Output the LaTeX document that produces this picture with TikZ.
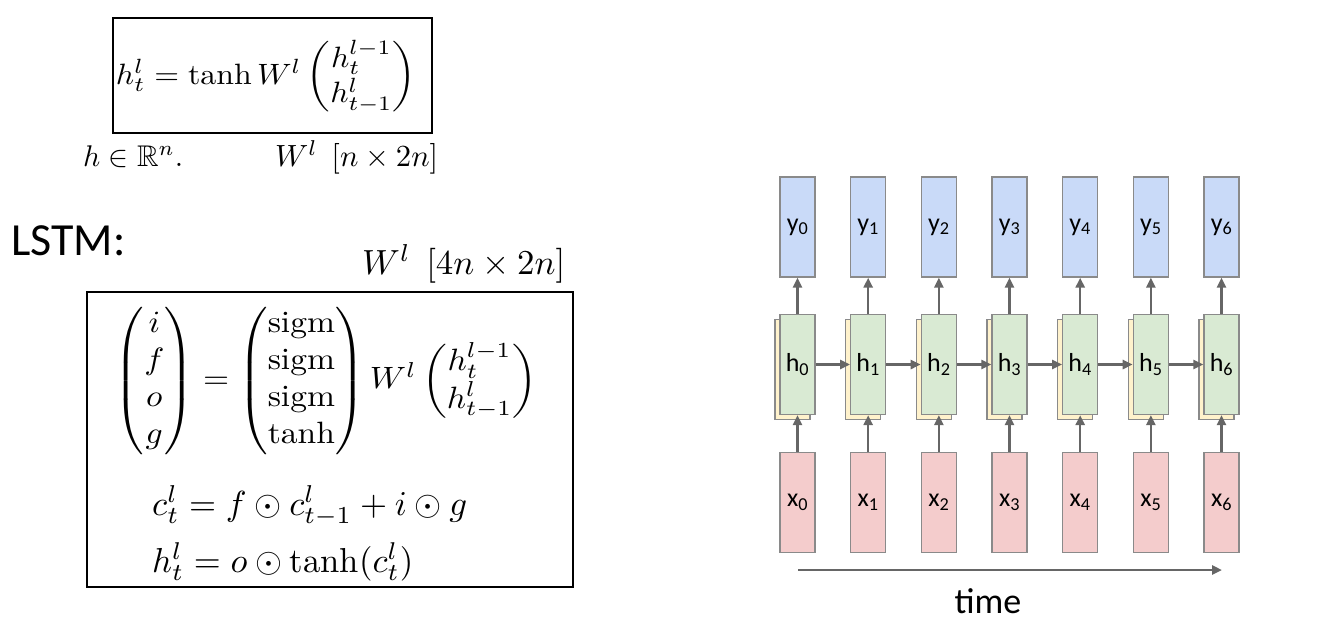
\documentclass[tikz,border=0pt]{standalone}
\usepackage{amsmath,amssymb}
\usepackage{graphicx}
\usepackage{fontspec}
\newfontfamily\calib{Carlito}
\usetikzlibrary{arrows.meta}
\definecolor{yblue}{HTML}{C9DAF8}
\definecolor{hgreen}{HTML}{D9EAD3}
\definecolor{xpink}{HTML}{F4CCCC}
\definecolor{hyellow}{HTML}{FFF2CC}
\definecolor{boxgray}{HTML}{8A8A8A}
\definecolor{arrgray}{HTML}{666666}
\begin{document}
\begin{tikzpicture}[x=1pt,y=-1pt,
  cell/.style={draw=boxgray, line width=1.3pt, minimum width=35pt, minimum height=100pt, inner sep=0pt, font=\calib\fontsize{26}{28}\selectfont},
  ycell/.style={cell, fill=yblue},
  hcell/.style={cell, fill=hgreen},
  hback/.style={cell, fill=hyellow},
  xcell/.style={cell, fill=xpink},
  arr/.style={-{Triangle[length=10pt,width=9pt]}, draw=arrgray, line width=2.6pt},
  framebox/.style={draw=black, line width=2pt, inner sep=0pt},
  eq/.style={inner sep=0pt}
]
\useasboundingbox (0,0) rectangle (1318,622);
% left side frames
\node[framebox, minimum width=319pt, minimum height=115pt] (topframe) at (272.5,75.5) {};
\node[framebox, minimum width=486pt, minimum height=295pt] (lstmframe) at (330,439.5) {};
% equations
\node[eq] (eqrnn) at (266,77) {\resizebox*{300pt}{73pt}{$h^l_t = \tanh W^l \begin{pmatrix} h^{l-1}_t\\ h^l_{t-1}\end{pmatrix}$}};
\node[eq, anchor=west] (hdim) at (83,157) {\resizebox{100pt}{!}{$h \in \mathbb{R}^n.$}};
\node[eq, anchor=west] (wdim) at (275,157) {\resizebox{163pt}{!}{$W^l\;\, [n \times 2n]$}};
\node[anchor=west, inner sep=0pt, font=\calib\fontsize{46}{50}\selectfont] (lstmlabel) at (11,241) {LSTM:};
\node[eq, anchor=west] (wlstm) at (362,264) {\resizebox{203pt}{!}{$W^l\;\, [4n \times 2n]$}};
\node[eq] (eqgates) at (326,381) {\resizebox*{422pt}{148pt}{$\begin{pmatrix} i\\ f\\ o\\ g\end{pmatrix} = \begin{pmatrix}\mathrm{sigm}\\ \mathrm{sigm}\\ \mathrm{sigm}\\ \tanh\end{pmatrix} W^l \begin{pmatrix} h^{l-1}_t\\ h^l_{t-1}\end{pmatrix}$}};
\node[eq, anchor=west] (eqc) at (152,506) {\resizebox{315pt}{!}{$c^l_t = f \odot c^l_{t-1} + i \odot g$}};
\node[eq, anchor=west] (eqh) at (152,562) {\resizebox{261pt}{!}{$h^l_t = o \odot \tanh(c^l_t)$}};
% RNN chain
\foreach \i in {0,...,6}{
  \pgfmathsetmacro{\cx}{797.5+70.67*\i}
  \node[ycell] (y\i) at (\cx,227) {y\textsubscript{\i}};
  \node[hback] (hb\i) at (\cx-5,369.5) {};
  \node[hcell] (h\i) at (\cx,364.5) {h\textsubscript{\i}};
  \node[xcell] (x\i) at (\cx,502.5) {x\textsubscript{\i}};
  \draw[arr] (x\i.north) -- (h\i.south);
  \draw[arr] (h\i.north) -- (y\i.south);
}
\foreach \i [evaluate=\i as \j using int(\i+1)] in {0,...,5}{
  \draw[arr] (h\i.east) -- (h\j.west);
}
\coordinate (tstart) at (798,570);
\coordinate (tend) at (1222,570);
\draw[arr] (tstart) -- (tend);
\node[font=\calib\fontsize{36}{40}\selectfont, inner sep=0pt] (timelabel) at (988,601) {time};
\end{tikzpicture}
\end{document}
